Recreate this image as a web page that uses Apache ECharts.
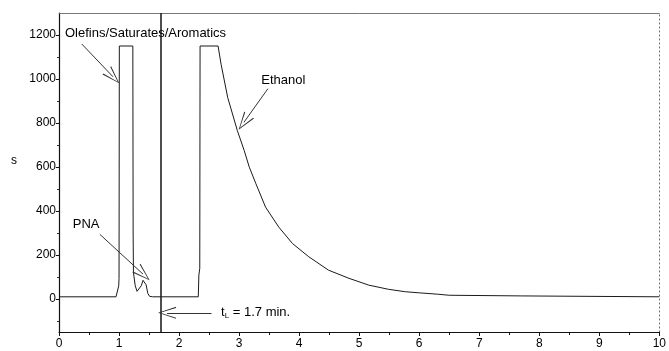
<!DOCTYPE html>
<html><head><meta charset="utf-8">
<script src="https://cdn.jsdelivr.net/npm/echarts@6/dist/echarts.min.js"></script>
<style>html,body{margin:0;padding:0;background:#fff}#c{width:669px;height:351px}</style>
</head><body><div id="c"></div>
<script>
const time = [0, 0.95, 0.98, 0.995, 1.0, 1.005, 1.23, 1.235, 1.24, 1.27, 1.3, 1.33, 1.37, 1.4, 1.42, 1.45, 1.48, 1.51, 1.56, 2.32, 2.33, 2.345, 2.35, 2.65, 2.70, 2.81, 2.97, 3.085, 3.17, 3.28, 3.44, 3.66, 3.89, 4.16, 4.49, 4.83, 5.16, 5.49, 5.77, 6.0, 6.3, 6.5, 7.7, 7.72, 10];
const signal = [10, 10, 15, 60, 94, 1150, 1150, 300, 120, 60, 35, 35, 60, 85, 89, 65, 25, 12, 10, 10, 109, 140, 1150, 1150, 1067, 916, 766, 675, 599, 524, 418, 327, 252, 192, 131, 94, 63, 44, 33, 28, 22, 17, 14, 10, 10];
const xTicks = [0, 1, 2, 3, 4, 5, 6, 7, 8, 9, 10];
const yTicks = [0, 200, 400, 600, 800, 1000, 1200];
const yMinorTicks = [-100, 100, 300, 500, 700, 900, 1100];
const tL = 1.7;
const labels = [
  {text: 'Olefins/Saturates/Aromatics', at: [0.1, 1205]},
  {text: 'Ethanol', at: [3.37, 992]},
  {text: 'PNA', at: [0.23, 340]},
  {text: '{t|t}{s|L}{t| = 1.7 min.}', at: [2.7, -59]}
];
const arrows = [
  [[0.38, 1159], [0.9, 1010]],
  [[3.48, 956], [3.08, 803]],
  [[0.68, 294], [1.40, 113]],
  [[2.54, -63], [1.8, -63]]
];

const font = 'Liberation Sans, Arial, sans-serif';
const chart = echarts.init(document.getElementById('c'));
const head = 'path://M5,0 L10,12 L9,12 L5,1.5 L1,12 L0,12 Z';
const yMin = -150, yMax = 1300;
chart.setOption({
  animation: false,
  grid: {left: 59, right: 9, top: 13, bottom: 19},
  xAxis: [{
    type: 'value', min: 0, max: 10, interval: 1,
    axisLine: {show: true, onZero: false, lineStyle: {color: '#111', width: 1.2}},
    axisTick: {show: true, length: 4, lineStyle: {color: '#111'}},
    minorTick: {show: true, splitNumber: 2, length: 3, lineStyle: {color: '#111'}},
    splitLine: {show: false},
    axisLabel: {color: '#000', fontFamily: font, fontSize: 12, margin: 6,
      formatter: v => String(v)}
  }, {
    type: 'value', min: 0, max: 10, position: 'top',
    axisLine: {show: true, onZero: false, lineStyle: {color: '#777', width: 1}},
    axisTick: {show: false}, axisLabel: {show: false}, splitLine: {show: false}
  }],
  yAxis: [{
    type: 'value', min: yMin, max: yMax,
    name: 's', nameLocation: 'middle', nameGap: 42, nameRotate: 0, nameMoveOverlap: false,
    nameTextStyle: {color: '#000', fontFamily: font, fontSize: 12, verticalAlign: 'bottom', padding: [0, 0, 6, 0]},
    axisLine: {show: true, onZero: false, lineStyle: {color: '#111', width: 1.2}},
    axisTick: {show: true, length: 3, customValues: yTicks, lineStyle: {color: '#111'}},
    splitLine: {show: false},
    axisLabel: {color: '#000', fontFamily: font, fontSize: 12, margin: 3, customValues: yTicks,
      formatter: v => String(v)}
  }, {
    type: 'value', min: yMin, max: yMax, position: 'right',
    axisLine: {show: true, onZero: false, lineStyle: {color: '#666', width: 1, type: [1, 3]}},
    axisTick: {show: false}, axisLabel: {show: false}, splitLine: {show: false}
  }, {
    type: 'value', min: yMin, max: yMax, position: 'left',
    axisLine: {show: false},
    axisTick: {show: true, length: 2, customValues: yMinorTicks, lineStyle: {color: '#333'}},
    axisLabel: {show: false}, splitLine: {show: false}
  }],
  series: [{
    type: 'line',
    data: time.map((t, i) => [t, signal[i]]),
    showSymbol: false,
    lineStyle: {color: '#1a1a1a', width: 1},
    silent: true,
    markLine: {
      silent: true, symbol: ['none', 'none'], animation: false,
      label: {show: false},
      lineStyle: {color: '#222', width: 1.6, type: 'solid'},
      data: [{xAxis: tL}]
    }
  }, {
    type: 'line', data: [], silent: true,
    markLine: {
      silent: true, animation: false,
      symbol: ['none', head], symbolSize: [12, 18],
      label: {show: false},
      lineStyle: {color: '#333', width: 1, type: 'solid'},
      data: arrows.map(a => [{coord: a[0]}, {coord: a[1]}])
    },
    markPoint: {
      silent: true, animation: false,
      symbol: 'circle', symbolSize: 0,
      data: labels.map(l => ({coord: l.at, value: l.text})),
      label: {show: true, position: 'right', distance: 0, color: '#000',
        fontFamily: font, fontSize: 13,
        formatter: p => p.value,
        rich: {t: {fontFamily: font, fontSize: 13, color: '#000'},
               s: {fontFamily: font, fontSize: 8, color: '#000', verticalAlign: 'bottom', padding: [7, 0, 0, 0]}}}
    }
  }]
});
</script></body></html>
